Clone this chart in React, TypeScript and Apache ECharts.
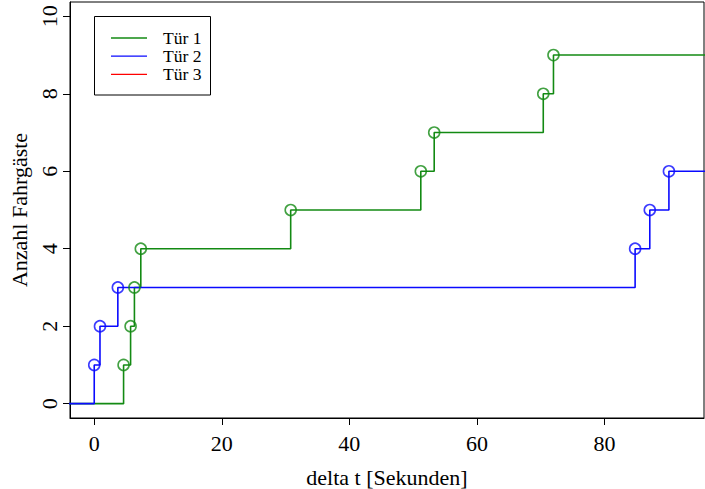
import React, { useEffect, useRef } from "react";
import * as echarts from "echarts";

// Ankunftszeitpunkte (delta t in Sekunden) und kumulierte Fahrgastzahlen je Tür
const tuer1Zeit = [4.6, 5.7, 6.3, 7.3, 30.8, 51.2, 53.3, 70.4, 72.0];
const tuer1Anzahl = [1, 2, 3, 4, 5, 6, 7, 8, 9];
const tuer2Zeit = [0, 0.9, 3.7, 84.8, 87.1, 90.1];
const tuer2Anzahl = [1, 2, 3, 4, 5, 6];
const tuer3Zeit: number[] = [];
const tuer3Anzahl: number[] = [];

const xTicks = [0, 20, 40, 60, 80];
const yTicks = [0, 2, 4, 6, 8, 10];
const legendNames = ["Tür 1", "Tür 2", "Tür 3"];
const colors = ["#138a13", "#0a0aff", "#ff0000"];

const X_MIN = -3.8;
const X_MAX = 95.6;
const Y_MIN = -0.37;
const Y_MAX = 10.37;

const FONT = "'Liberation Serif', 'Times New Roman', serif";

function stepData(zeit: number[], anzahl: number[]) {
  if (zeit.length === 0) return [];
  const pts: number[][] = [[X_MIN - 5, 0]];
  zeit.forEach((t, i) => pts.push([t, anzahl[i]]));
  pts.push([X_MAX + 5, anzahl[anzahl.length - 1]]);
  return pts;
}

function points(zeit: number[], anzahl: number[]) {
  return zeit.map((t, i) => [t, anzahl[i]]);
}

export default function App() {
  const ref = useRef<HTMLDivElement>(null);

  useEffect(() => {
    if (!ref.current) return;
    const chart = echarts.init(ref.current, null, { renderer: "svg" });
    const sets = [
      [tuer1Zeit, tuer1Anzahl],
      [tuer2Zeit, tuer2Anzahl],
      [tuer3Zeit, tuer3Anzahl],
    ];
    const series: any[] = [];
    sets.forEach(([z, a], i) => {
      series.push({
        name: legendNames[i],
        type: "line",
        step: "end",
        data: stepData(z, a),
        showSymbol: false,
        clip: true,
        lineStyle: { color: colors[i], width: 1.6 },
        z: 2,
      });
      series.push({
        name: legendNames[i] + " Punkte",
        type: "scatter",
        data: points(z, a),
        symbol: "circle",
        symbolSize: 11,
        itemStyle: { color: "rgba(0,0,0,0)", borderColor: colors[i], borderWidth: 1.6 },
        z: 3,
      });
    });

    const legendItems: any[] = [
      {
        type: "rect",
        shape: { x: 94.5, y: 16.5, width: 116, height: 78.5 },
        style: { fill: "#fff", stroke: "#000", lineWidth: 1 },
      },
    ];
    legendNames.forEach((n, i) => {
      const y = 38 + i * 18.2;
      legendItems.push({
        type: "line",
        shape: { x1: 111, y1: y, x2: 147, y2: y },
        style: { stroke: colors[i], lineWidth: 1.3 },
      });
      legendItems.push({
        type: "text",
        x: 163,
        y: y,
        style: {
          text: n,
          font: `17.6px ${FONT}`,
          fill: "#000",
          textAlign: "left",
          textVerticalAlign: "middle",
        },
      });
    });

    const axisCommon = {
      type: "value",
      axisLine: { show: true, onZero: false, lineStyle: { color: "#000", width: 1 } },
      splitLine: { show: false },
    };

    chart.setOption({
      animation: false,
      backgroundColor: "#fff",
      grid: {
        left: 70,
        top: 2,
        width: 634,
        height: 416,
        show: true,
        borderColor: "#000",
        borderWidth: 1,
        backgroundColor: "transparent",
      },
      xAxis: {
        ...axisCommon,
        min: X_MIN,
        max: X_MAX,
        axisTick: {
          show: true,
          inside: false,
          length: 7,
          customValues: xTicks,
          lineStyle: { color: "#000", width: 1 },
        },
        axisLabel: {
          customValues: xTicks,
          inside: false,
          margin: 14,
          color: "#000",
          fontSize: 22,
          fontFamily: FONT,
        },
      },
      yAxis: {
        ...axisCommon,
        min: Y_MIN,
        max: Y_MAX,
        axisTick: {
          show: true,
          inside: false,
          length: 7,
          customValues: yTicks,
          lineStyle: { color: "#000", width: 1 },
        },
        axisLabel: {
          customValues: yTicks,
          inside: false,
          rotate: 90,
          margin: 10,
          color: "#000",
          fontSize: 22,
          fontFamily: FONT,
        },
      },
      graphic: [
        {
          type: "text",
          x: 387,
          y: 477,
          style: {
            text: "delta t [Sekunden]",
            font: `22px ${FONT}`,
            fill: "#000",
            textAlign: "center",
            textVerticalAlign: "middle",
          },
        },
        {
          type: "text",
          x: 19,
          y: 210,
          rotation: Math.PI / 2,
          style: {
            text: "Anzahl Fahrgäste",
            font: `22px ${FONT}`,
            fill: "#000",
            textAlign: "center",
            textVerticalAlign: "middle",
          },
        },
        ...legendItems,
      ],
      series,
    });
    return () => chart.dispose();
  }, []);

  return <div ref={ref} style={{ width: 705, height: 489, position: "absolute", left: 0, top: 0 }} />;
}
